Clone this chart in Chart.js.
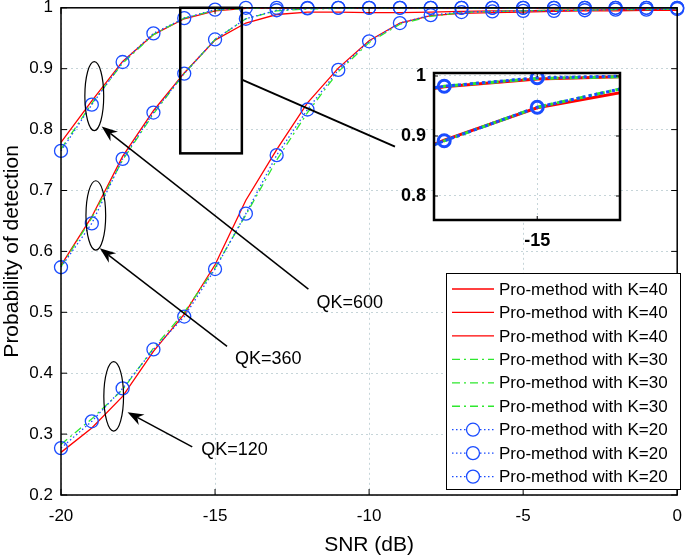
<!DOCTYPE html>
<html>
<head>
<meta charset="utf-8">
<script src="https://cdn.jsdelivr.net/npm/chart.js@4.4.1/dist/chart.umd.min.js"></script>
<style>
  html, body { margin: 0; padding: 0; background: #fff; }
  #wrap { position: relative; width: 685px; height: 556px; }
  #main { position: absolute; left: 0; top: 0; }
  #inset { position: absolute; left: 395px; top: 60px; }
</style>
</head>
<body>
<div id="wrap">
  <canvas id="main" width="685" height="556"></canvas>
  <canvas id="inset" width="235" height="195"></canvas>
</div>
<script>
// ─── データ ─────────────────────────────────────────
const SNR = [-20, -19, -18, -17, -16, -15, -14, -13, -12, -11, -10, -9, -8, -7, -6, -5, -4, -3, -2, -1, 0];

const QK600_K40 = [0.779, 0.847, 0.912, 0.956, 0.982, 0.995, 0.999, 0.999, 0.999, 0.999, 0.999, 0.999, 0.999, 0.999, 0.999, 0.999, 0.999, 0.999, 0.999, 0.999, 0.999];
const QK600_K30 = [0.768, 0.843, 0.909, 0.956, 0.983, 0.996, 0.999, 1.000, 1.000, 1.000, 1.000, 1.000, 1.000, 1.000, 1.000, 1.000, 1.000, 1.000, 1.000, 1.000, 1.000];
const QK600_K20 = [0.765, 0.841, 0.911, 0.958, 0.983, 0.997, 1.000, 1.000, 1.000, 1.000, 1.000, 1.000, 1.000, 1.000, 1.000, 1.000, 1.000, 1.000, 1.000, 1.000, 1.000];

const QK360_K40 = [0.577, 0.657, 0.756, 0.831, 0.893, 0.947, 0.975, 0.989, 0.993, 0.993, 0.992, 0.992, 0.993, 0.994, 0.995, 0.995, 0.996, 0.996, 0.997, 0.997, 0.998];
const QK360_K30 = [0.575, 0.655, 0.750, 0.826, 0.892, 0.948, 0.982, 0.995, 0.998, 0.999, 1.000, 1.000, 1.000, 1.000, 1.000, 1.000, 1.000, 1.000, 1.000, 1.000, 1.000];
const QK360_K20 = [0.574, 0.646, 0.752, 0.828, 0.892, 0.948, 0.982, 0.996, 0.999, 1.000, 1.000, 1.000, 1.000, 1.000, 1.000, 1.000, 1.000, 1.000, 1.000, 1.000, 1.000];

const QK120_K40 = [0.270, 0.310, 0.362, 0.436, 0.497, 0.578, 0.684, 0.767, 0.844, 0.901, 0.946, 0.975, 0.987, 0.991, 0.992, 0.993, 0.994, 0.995, 0.995, 0.996, 0.996];
const QK120_K30 = [0.283, 0.325, 0.373, 0.441, 0.500, 0.573, 0.660, 0.750, 0.828, 0.895, 0.943, 0.973, 0.986, 0.992, 0.994, 0.995, 0.996, 0.996, 0.997, 0.997, 0.998];
const QK120_K20 = [0.277, 0.321, 0.375, 0.439, 0.493, 0.571, 0.662, 0.758, 0.833, 0.898, 0.945, 0.975, 0.988, 0.993, 0.994, 0.995, 0.995, 0.996, 0.997, 0.997, 0.998];

const SERIES_LABELS = ['Pro-method with K=40', 'Pro-method with K=30', 'Pro-method with K=20'];
const Y_TICKS = [0.2, 0.3, 0.4, 0.5, 0.6, 0.7, 0.8, 0.9, 1];
const X_TICKS = [-20, -15, -10, -5, 0];
const INSET_X_TICKS = [-15];
const INSET_Y_TICKS = [0.8, 0.9, 1];

// 注釈（データ座標）
const NOTE_TEXT = ['QK=600', 'QK=360', 'QK=120'];
const NOTE_POS  = [[-11.71, 0.515], [-14.35, 0.423], [-15.45, 0.274]];
const ARROW_FROM = [[-11.97, 0.538], [-14.61, 0.444], [-15.74, 0.279]];
const ARROW_TO   = [[-18.68, 0.805], [-18.74, 0.605], [-17.84, 0.336]];
const ELLIPSES   = [[-18.92, 0.855, 0.306, 0.0566], [-18.87, 0.659, 0.32, 0.057], [-18.29, 0.362, 0.32, 0.057]];
const ZOOM_BOX   = [-16.13, -14.13, 0.761, 1.0];
const ZOOM_LINK  = [[-14.13, 0.882], [-9.16, 0.772]];

// ─── スタイル ───────────────────────────────────────
const FONT = '"Liberation Sans", Arial, Helvetica, sans-serif';
const RED = '#ff0000', GREEN = '#2ee82e', BLUE = '#1a4cff';
const GRID = '#c6d5d9';

const pts = arr => SNR.map((x, i) => ({ x, y: arr[i] }));

function makeSets(big) {
  const lw = big ? 3 : 1.3;
  const red = d => ({
    label: SERIES_LABELS[0], data: pts(d), borderColor: RED, borderWidth: lw,
    pointRadius: 0, order: 3,
  });
  const green = d => ({
    label: SERIES_LABELS[1], data: pts(d), borderColor: GREEN, borderWidth: lw,
    borderDash: big ? [9, 4, 3, 4] : [8, 4, 2, 4], pointRadius: 0, order: 2,
  });
  const blue = d => ({
    label: SERIES_LABELS[2], data: pts(d), borderColor: BLUE, borderWidth: lw,
    borderDash: big ? [3, 3] : [1.5, 2.5],
    pointRadius: big ? 6 : 6.5, pointStyle: 'circle',
    pointBackgroundColor: 'rgba(0,0,0,0)', pointBorderColor: BLUE,
    pointBorderWidth: big ? 3 : 1.3, order: 1,
  });
  return [
    red(QK600_K40), red(QK360_K40), red(QK120_K40),
    green(QK600_K30), green(QK360_K30), green(QK120_K30),
    blue(QK600_K20), blue(QK360_K20), blue(QK120_K20),
  ].map(s => ({ ...s, tension: 0, fill: false, clip: big ? undefined : false }));
}

const fmt = v => String(Math.round(v * 10) / 10);

// 軸ラベルによる余白を消す
const noPadX = s => { s.paddingLeft = 0; s.paddingRight = 0; };
const noPadY = s => { s.paddingTop = 0; s.paddingBottom = 0; };

// 内向きの目盛りと枠
function drawFrame(chart, xt, yt, lw, tl) {
  const { ctx, chartArea: a, scales: { x, y } } = chart;
  ctx.save();
  ctx.strokeStyle = '#000';
  ctx.lineWidth = 1;
  ctx.beginPath();
  xt.forEach(v => {
    const px = x.getPixelForValue(v);
    ctx.moveTo(px, a.bottom); ctx.lineTo(px, a.bottom - tl);
    ctx.moveTo(px, a.top); ctx.lineTo(px, a.top + tl);
  });
  yt.forEach(v => {
    const py = y.getPixelForValue(v);
    ctx.moveTo(a.left, py); ctx.lineTo(a.left + tl, py);
    ctx.moveTo(a.right, py); ctx.lineTo(a.right - tl, py);
  });
  ctx.stroke();
  ctx.lineWidth = lw;
  ctx.strokeRect(a.left, a.top, a.right - a.left, a.bottom - a.top);
  ctx.restore();
}

function arrow(ctx, x1, y1, x2, y2) {
  const ang = Math.atan2(y2 - y1, x2 - x1);
  const L = 16, W = 6, N = 11;
  const bx = x2 - L * Math.cos(ang), by = y2 - L * Math.sin(ang);
  const nx = x2 - N * Math.cos(ang), ny = y2 - N * Math.sin(ang);
  const px = -Math.sin(ang) * W, py = Math.cos(ang) * W;
  ctx.beginPath();
  ctx.moveTo(x1, y1); ctx.lineTo(nx, ny);
  ctx.stroke();
  ctx.beginPath();
  ctx.moveTo(x2, y2);
  ctx.lineTo(bx + px, by + py);
  ctx.lineTo(nx, ny);
  ctx.lineTo(bx - px, by - py);
  ctx.closePath();
  ctx.fill();
}

const mainDecor = {
  id: 'mainDecor',
  afterDraw(chart) {
    const { ctx, scales: { x, y } } = chart;
    const X = v => x.getPixelForValue(v), Y = v => y.getPixelForValue(v);
    drawFrame(chart, X_TICKS, Y_TICKS, 1.5, 6);

    ctx.save();
    ctx.strokeStyle = '#000';
    ctx.fillStyle = '#000';
    // 楕円
    ctx.lineWidth = 1.2;
    ELLIPSES.forEach(([cx, cy, rx, ry]) => {
      const px = X(cx), py = Y(cy);
      const rpx = Math.abs(X(cx + rx) - px), rpy = Math.abs(Y(cy + ry) - py);
      ctx.beginPath();
      ctx.ellipse(px, py, rpx, rpy, 0, 0, Math.PI * 2);
      ctx.stroke();
    });
    // 矢印
    ctx.lineWidth = 1.5;
    ARROW_FROM.forEach((f, i) => {
      const t = ARROW_TO[i];
      arrow(ctx, X(f[0]), Y(f[1]), X(t[0]), Y(t[1]));
    });
    // ラベル
    ctx.font = '18px ' + FONT;
    ctx.textBaseline = 'middle';
    ctx.textAlign = 'left';
    NOTE_TEXT.forEach((s, i) => ctx.fillText(s, X(NOTE_POS[i][0]), Y(NOTE_POS[i][1])));
    // 拡大枠と接続線
    ctx.lineWidth = 2.5;
    const [x0, x1, y0, y1] = ZOOM_BOX;
    ctx.strokeRect(X(x0), Y(y1), X(x1) - X(x0), Y(y0) - Y(y1));
    ctx.lineWidth = 2;
    ctx.beginPath();
    ctx.moveTo(X(ZOOM_LINK[0][0]), Y(ZOOM_LINK[0][1]));
    ctx.lineTo(X(ZOOM_LINK[1][0]), Y(ZOOM_LINK[1][1]));
    ctx.stroke();

    // 凡例
    const lx = 446, ly = 273, lw = 234, lh = 216, row = 23.45;
    ctx.fillStyle = '#fff';
    ctx.fillRect(lx, ly, lw, lh);
    ctx.lineWidth = 1;
    ctx.strokeStyle = '#000';
    ctx.strokeRect(lx + 0.5, ly + 0.5, lw, lh);
    ctx.font = '17px ' + FONT;
    chart.data.datasets.forEach((ds, i) => {
      const cy = ly + 16 + i * row;
      ctx.save();
      ctx.strokeStyle = ds.borderColor;
      ctx.lineWidth = ds.borderWidth;
      ctx.setLineDash(ds.borderDash || []);
      ctx.beginPath();
      ctx.moveTo(lx + 6, cy); ctx.lineTo(lx + 48, cy);
      ctx.stroke();
      ctx.setLineDash([]);
      if (ds.pointRadius > 0) {
        ctx.beginPath();
        ctx.fillStyle = '#fff';
        ctx.arc(lx + 27, cy, ds.pointRadius, 0, Math.PI * 2);
        ctx.fill();
        ctx.lineWidth = ds.pointBorderWidth;
        ctx.strokeStyle = ds.pointBorderColor;
        ctx.stroke();
      }
      ctx.restore();
      ctx.fillStyle = '#000';
      ctx.fillText(ds.label, lx + 53, cy + 1);
    });
    ctx.restore();
  },
};

const insetDecor = {
  id: 'insetDecor',
  beforeDraw(chart) {
    const { ctx, chartArea: a } = chart;
    ctx.save();
    ctx.fillStyle = '#fff';
    ctx.fillRect(a.left, a.top, a.right - a.left, a.bottom - a.top);
    ctx.restore();
  },
  afterDraw(chart) {
    drawFrame(chart, INSET_X_TICKS, INSET_Y_TICKS, 2.5, 4);
  },
};

// ─── メインチャート ─────────────────────────────────
new Chart(document.getElementById('main'), {
  type: 'line',
  data: { datasets: makeSets(false) },
  plugins: [mainDecor],
  options: {
    responsive: false,
    animation: false,
    events: [],
    layout: { padding: { top: 7, right: 4, left: 0, bottom: 0 } },
    plugins: { legend: { display: false }, tooltip: { enabled: false } },
    scales: {
      x: {
        type: 'linear', min: -20, max: 0,
        afterFit: s => { s.height = 61; noPadX(s); },
        afterBuildTicks: s => { s.ticks = X_TICKS.map(value => ({ value })); },
        ticks: { color: '#000', font: { family: FONT, size: 17 }, padding: 11, callback: v => String(v), maxRotation: 0 },
        grid: { color: GRID, lineWidth: 1, drawTicks: false },
        border: { display: false, dash: [2, 3] },
        title: { display: true, text: 'SNR (dB)', color: '#000', font: { family: FONT, size: 21 }, padding: { top: 0, bottom: -2 } },
      },
      y: {
        type: 'linear', min: 0.2, max: 1,
        afterFit: s => { s.width = 61; noPadY(s); },
        afterBuildTicks: s => { s.ticks = Y_TICKS.map(value => ({ value })); },
        ticks: { color: '#000', font: { family: FONT, size: 17 }, padding: 8, callback: fmt },
        grid: { color: GRID, lineWidth: 1, drawTicks: false },
        border: { display: false, dash: [2, 3] },
        title: { display: true, text: 'Probability of detection', color: '#000', font: { family: FONT, size: 21 }, padding: { top: 0, bottom: 0 } },
      },
    },
  },
});

// ─── 拡大図 ─────────────────────────────────────────
new Chart(document.getElementById('inset'), {
  type: 'line',
  data: { datasets: makeSets(true) },
  plugins: [insetDecor],
  options: {
    responsive: false,
    animation: false,
    events: [],
    layout: { padding: { top: 13, right: 10, left: 0, bottom: 0 } },
    plugins: { legend: { display: false }, tooltip: { enabled: false } },
    scales: {
      x: {
        type: 'linear', min: -16.11, max: -14.11,
        afterFit: s => { s.height = 35; noPadX(s); },
        afterBuildTicks: s => { s.ticks = INSET_X_TICKS.map(value => ({ value })); },
        ticks: { color: '#000', font: { family: FONT, size: 18, weight: 'bold' }, padding: 10, callback: v => String(v) },
        grid: { color: GRID, lineWidth: 1, drawTicks: false },
        border: { display: false, dash: [2, 3] },
      },
      y: {
        type: 'linear', min: 0.76, max: 1.005,
        afterFit: s => { s.width = 39; noPadY(s); },
        afterBuildTicks: s => { s.ticks = INSET_Y_TICKS.map(value => ({ value })); },
        ticks: { color: '#000', font: { family: FONT, size: 18, weight: 'bold' }, padding: 8, callback: fmt },
        grid: { color: GRID, lineWidth: 1, drawTicks: false },
        border: { display: false, dash: [2, 3] },
      },
    },
  },
});
</script>
</body>
</html>
